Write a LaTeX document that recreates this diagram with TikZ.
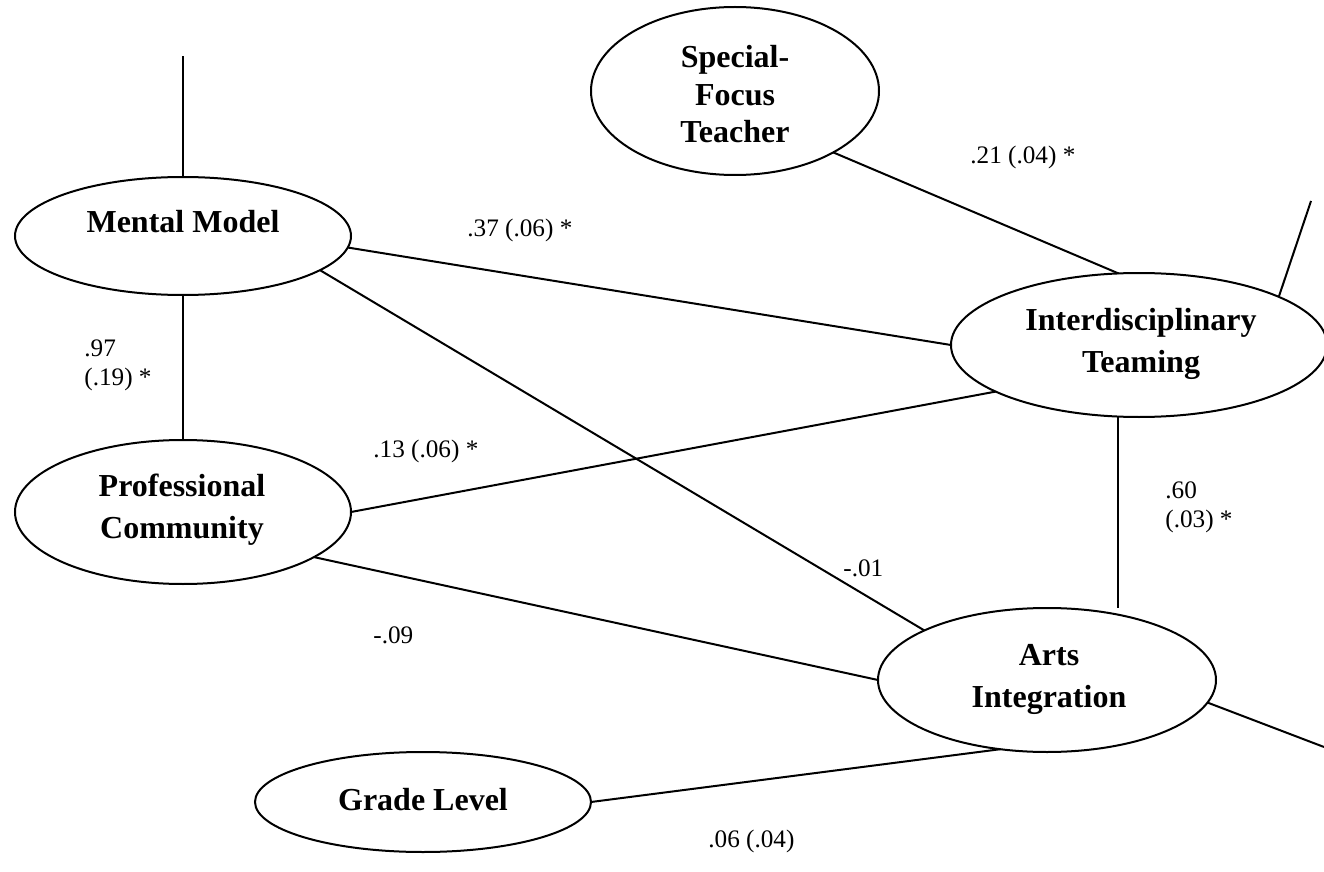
\documentclass[tikz,border=0pt]{standalone}
\usepackage{fontspec}
\setmainfont{Liberation Serif}
\usetikzlibrary{shapes.geometric}
\begin{document}
\begin{tikzpicture}[x=0.5pt,y=-0.5pt,
  oval/.style={ellipse, draw, line width=1pt, inner sep=0pt, outer sep=0pt},
  vartext/.style={font=\fontsize{16}{21}\selectfont\bfseries, align=center, anchor=base, inner sep=0pt},
  coef/.style={font=\fontsize{12.6}{14.5}\selectfont, align=left, anchor=base west, inner sep=0pt},
  link/.style={line width=1pt}]
\useasboundingbox (0,0) rectangle (1324,872);

% latent variables
\node[oval, minimum width=144pt, minimum height=84pt] (sf) at (735,91) {};
\node[oval, minimum width=168pt, minimum height=59pt] (mm) at (183,236) {};
\node[oval, minimum width=188pt, minimum height=72pt] (it) at (1139,345) {};
\node[oval, minimum width=168pt, minimum height=72pt] (pc) at (183,512) {};
\node[oval, minimum width=169pt, minimum height=72pt] (ai) at (1047,680) {};
\node[oval, minimum width=168pt, minimum height=50pt] (gl) at (423,802) {};

% their names (multi-line nodes are placed by the baseline of their last line)
\node[vartext, font=\fontsize{16}{18.75}\selectfont\bfseries] (sft) at (735,143) {Special-\\Focus\\Teacher};
\node[vartext] (mmt) at (183,233) {Mental Model};
\node[vartext] (itt) at (1141,372) {Interdisciplinary\\Teaming};
\node[vartext] (pct) at (182,538) {Professional\\Community};
\node[vartext] (ait) at (1049,707) {Arts\\Integration};
\node[vartext] (glt) at (423,810) {Grade Level};

% free ends
\coordinate (mmtop) at (183,56);
\coordinate (iterr) at (1311,201);
\coordinate (aierr) at (1324,747);

% connectors
\draw[link] (mm.north) -- (mmtop);
\draw[link] (mm.south) -- (pc.north);
\draw[link] (sf.-32) -- (it.106);
\draw[link] (it.19) -- (iterr);
\draw[link] (mm.-4) -- (it.180);
\draw[link] (mm.-14) -- (ai.158);
\draw[link] (pc.east) -- (it.198);
\draw[link] (pc.-19) -- (ai.west);
\draw[link] (it.254) -- (ai.north -| it.254);
\draw[link] (ai.-8.5) -- (aierr);
\draw[link] (gl.east) -- (ai.236);

% coefficients
\node[coef] (c1) at (970,163) {.21 (.04) *};
\node[coef] (c2) at (467,236) {.37 (.06) *};
\node[coef] (c3) at (84,385) {.97\\(.19) *};
\node[coef] (c4) at (373,457) {.13 (.06) *};
\node[coef] (c5) at (843,576) {-.01};
\node[coef] (c6) at (1165,527) {.60\\(.03) *};
\node[coef] (c7) at (373,643) {-.09};
\node[coef] (c8) at (708,847) {.06 (.04)};
\end{tikzpicture}
\end{document}
